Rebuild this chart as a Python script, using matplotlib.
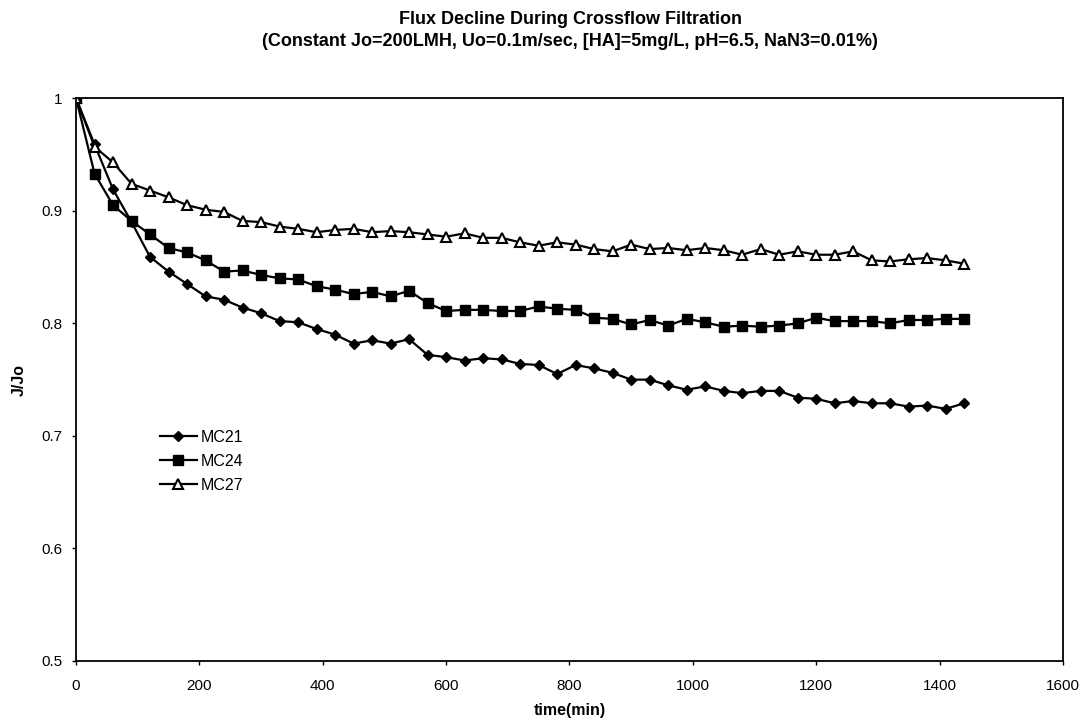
import matplotlib.pyplot as plt

plt.rcParams['font.family'] = ['Liberation Sans', 'DejaVu Sans']

# sampling times (min)
time_min = [0, 30, 60, 90, 120, 150, 180, 210, 240, 270, 300, 330, 360, 390, 420,
            450, 480, 510, 540, 570, 600, 630, 660, 690, 720, 750, 780, 810, 840,
            870, 900, 930, 960, 990, 1020, 1050, 1080, 1110, 1140, 1170, 1200,
            1230, 1260, 1290, 1320, 1350, 1380, 1410, 1440]

mc21 = [1.0, 0.959, 0.919, 0.890, 0.859, 0.846, 0.835, 0.824, 0.821, 0.814,
        0.809, 0.802, 0.801, 0.795, 0.790, 0.782, 0.785, 0.782, 0.786, 0.772,
        0.770, 0.767, 0.769, 0.768, 0.764, 0.763, 0.755, 0.763, 0.760, 0.756,
        0.750, 0.750, 0.745, 0.741, 0.744, 0.740, 0.738, 0.740, 0.740, 0.734,
        0.733, 0.729, 0.731, 0.729, 0.729, 0.726, 0.727, 0.724, 0.729]

mc24 = [1.0, 0.933, 0.905, 0.891, 0.879, 0.867, 0.863, 0.856, 0.846, 0.847,
        0.843, 0.840, 0.839, 0.833, 0.830, 0.826, 0.828, 0.824, 0.829, 0.818,
        0.811, 0.812, 0.812, 0.811, 0.811, 0.815, 0.813, 0.812, 0.805, 0.804,
        0.799, 0.803, 0.798, 0.804, 0.801, 0.797, 0.798, 0.797, 0.798, 0.800,
        0.805, 0.802, 0.802, 0.802, 0.800, 0.803, 0.803, 0.804, 0.804]

mc27 = [1.0, 0.957, 0.943, 0.924, 0.918, 0.912, 0.905, 0.901, 0.899, 0.891,
        0.890, 0.886, 0.884, 0.881, 0.883, 0.884, 0.881, 0.882, 0.881, 0.879,
        0.877, 0.880, 0.876, 0.876, 0.872, 0.869, 0.872, 0.870, 0.866, 0.864,
        0.870, 0.866, 0.867, 0.865, 0.867, 0.865, 0.861, 0.866, 0.861, 0.864,
        0.861, 0.861, 0.864, 0.856, 0.855, 0.857, 0.858, 0.856, 0.853]

x_ticks = [0, 200, 400, 600, 800, 1000, 1200, 1400, 1600]
y_ticks = [0.5, 0.6, 0.7, 0.8, 0.9, 1.0]
y_tick_labels = ['0.5', '0.6', '0.7', '0.8', '0.9', '1']

fig = plt.figure(figsize=(10.88, 7.27), dpi=100)
ax = fig.add_axes([0.0699, 0.0908, 0.907, 0.774])

ax.plot(time_min, mc21, color='black', lw=1.6, marker='D', ms=5.5,
        mfc='black', mec='black', label='MC21')
ax.plot(time_min, mc24, color='black', lw=1.6, marker='s', ms=6.5,
        mfc='black', mec='black', label='MC24')
ax.plot(time_min, mc27, color='black', lw=1.6, marker='^', ms=7,
        mfc='white', mec='black', mew=1.5, label='MC27')

ax.set_xlim(0, 1600)
ax.set_ylim(0.5, 1.0)
ax.set_xticks(x_ticks)
ax.set_yticks(y_ticks)
ax.set_yticklabels(y_tick_labels)
ax.tick_params(direction='out', length=3, width=1, labelsize=11)
ax.tick_params(axis='x', pad=10)
ax.tick_params(axis='y', pad=7)
for s in ax.spines.values():
    s.set_linewidth(1.3)

ax.set_xlabel('time(min)', fontsize=11.5, fontweight='bold', labelpad=7)
ax.set_ylabel('J/Jo', fontsize=11.5, fontweight='bold', labelpad=10)

fig.text(0.524, 0.9725, 'Flux Decline During Crossflow Filtration',
         ha='center', va='center', fontsize=13, fontweight='bold')
fig.text(0.524, 0.9436,
         '(Constant Jo=200LMH, Uo=0.1m/sec, [HA]=5mg/L, pH=6.5, NaN3=0.01%)',
         ha='center', va='center', fontsize=13, fontweight='bold')

ax.legend(loc='center left', bbox_to_anchor=(0.085, 0.355), frameon=False,
          fontsize=11.5, handlelength=2.3, handletextpad=0.25, labelspacing=0.55,
          borderaxespad=0, borderpad=0)

fig.savefig('out.png', dpi=100)
